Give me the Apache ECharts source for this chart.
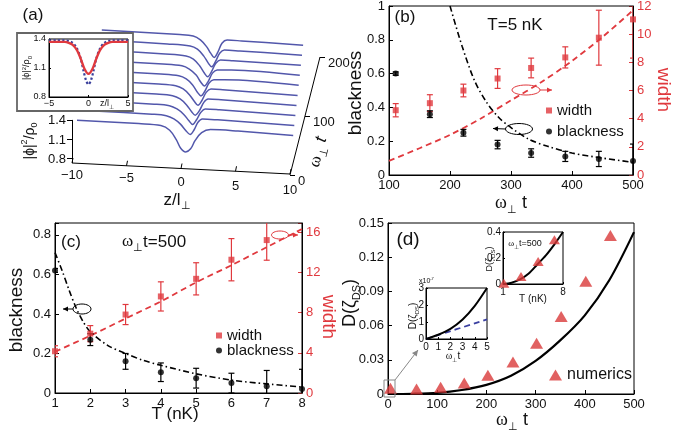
<!DOCTYPE html>
<html><head><meta charset="utf-8">
<script src="https://cdn.jsdelivr.net/npm/echarts@6.0.0/dist/echarts.min.js"></script>
<style>html,body{margin:0;padding:0;background:#fff}#c{width:690px;height:434px}</style>
</head><body><div id="c"></div>
<script>
// ================= DATA =================
// (a) waterfall: time of each profile and its (z, |phi|^2/rho0) points
const aTimes = [0, 17, 34, 51, 68, 85, 102, 119, 136, 153];
const aProfiles = [
  [[-9.6,1.40],[-4,1.40],[-2,1.39],[-1.2,1.33],[-0.6,1.20],[-0.2,1.08],[0.25,1.03],[0.7,1.08],[1.1,1.20],[1.7,1.32],[2.5,1.37],[5,1.37],[10,1.35]],
  [[-9.6,1.40],[-3,1.40],[-1.7,1.39],[-1.0,1.35],[-0.4,1.28],[0.1,1.19],[0.48,1.14],[0.85,1.21],[1.2,1.32],[1.6,1.37],[3,1.37],[10,1.35]],
  [[-9.6,1.40],[-3,1.40],[-1.6,1.39],[-0.9,1.35],[-0.3,1.28],[0.2,1.19],[0.54,1.14],[0.9,1.21],[1.3,1.32],[1.7,1.37],[3,1.37],[10,1.35]],
  [[-9.6,1.40],[-3,1.40],[-1.5,1.39],[-0.8,1.35],[-0.2,1.27],[0.25,1.18],[0.6,1.13],[1.0,1.20],[1.4,1.32],[1.8,1.37],[3,1.37],[10,1.35]],
  [[-9.6,1.40],[-3,1.40],[-1.4,1.39],[-0.7,1.35],[-0.1,1.27],[0.35,1.18],[0.68,1.13],[1.05,1.20],[1.45,1.32],[1.9,1.37],[3,1.37],[10,1.35]],
  [[-9.6,1.40],[-3,1.40],[-1.3,1.39],[-0.6,1.35],[0.0,1.27],[0.45,1.17],[0.79,1.12],[1.15,1.19],[1.55,1.31],[2.0,1.36],[3,1.37],[10,1.35]],
  [[-9.6,1.40],[-3,1.40],[-1.2,1.39],[-0.5,1.35],[0.15,1.27],[0.6,1.17],[0.93,1.12],[1.3,1.19],[1.7,1.31],[2.15,1.36],[3.5,1.37],[10,1.35]],
  [[-9.6,1.40],[-3,1.40],[-1.0,1.39],[-0.3,1.35],[0.3,1.26],[0.75,1.16],[1.07,1.11],[1.45,1.19],[1.85,1.31],[2.3,1.36],[3.5,1.36],[10,1.35]],
  [[-9.6,1.40],[-3,1.40],[-0.8,1.39],[-0.1,1.35],[0.5,1.26],[0.95,1.16],[1.27,1.11],[1.65,1.19],[2.05,1.31],[2.5,1.36],[4,1.36],[10,1.35]],
  [[-9.6,1.40],[-2,1.40],[-0.7,1.39],[0.0,1.34],[0.6,1.25],[1.0,1.16],[1.33,1.10],[1.7,1.18],[2.1,1.31],[2.6,1.36],[4,1.36],[10,1.35]]
];
const aZTicks = [-10, -5, 0, 5, 10];
const aVTicks = [0.8, 1.1, 1.4];
const aTTicks = [0, 100, 200];
// (a) inset
const aInsetNumZ = [-5,-4,-3,-2.5,-2,-1.5,-1,-0.6,-0.3,0,0.3,0.6,1,1.5,2,2.5,3,4,5];
const aInsetNum  = [1.385,1.385,1.385,1.38,1.36,1.31,1.2,1.06,0.97,0.93,0.97,1.06,1.2,1.31,1.36,1.38,1.385,1.385,1.385];
const aInsetRedZ = [-5,-3,-2.5,-2,-1.5,-1,-0.5,0,0.5,1,1.5,2,2.5,3,5];
const aInsetRed  = [1.37,1.37,1.36,1.34,1.29,1.2,1.09,1.04,1.09,1.2,1.29,1.34,1.36,1.37,1.37];
// (b) T = 5 nK
const bTime      = [111, 167, 222, 278, 333, 389, 444, 500];
const bBlack     = [0.60, 0.36, 0.25, 0.18, 0.13, 0.11, 0.095, 0.083];
const bBlackErr  = [0.01, 0.02, 0.02, 0.025, 0.025, 0.03, 0.045, 0.10];
const bWidth     = [4.6, 5.1, 6.0, 6.85, 7.6, 8.35, 9.75, 11.05];
const bWidthErr  = [0.47, 0.6, 0.45, 0.7, 0.7, 0.75, 1.95, 2.75];
const bWidthFitT = [100, 150, 200, 250, 300, 350, 400, 450, 500];
const bWidthFit  = [1.0, 1.9, 2.85, 4.0, 5.3, 6.6, 8.1, 9.8, 11.7];
const bBlackFitT = [200, 220, 240, 260, 280, 300, 330, 360, 400, 450, 500];
const bBlackFit  = [1.0, 0.76, 0.56, 0.43, 0.34, 0.28, 0.21, 0.17, 0.13, 0.10, 0.075];
// (c) omega t = 500
const cT         = [1, 2, 3, 4, 5, 6, 7, 8];
const cBlack     = [0.62, 0.27, 0.16, 0.105, 0.075, 0.05, 0.034, 0.02];
const cBlackErr  = [0.01, 0.03, 0.04, 0.047, 0.05, 0.05, 0.08, 0.10];
const cWidthT    = [1, 2, 3, 4, 5, 6, 7];
const cWidth     = [4.15, 5.9, 7.8, 9.6, 11.35, 13.25, 15.2];
const cWidthErr  = [0.55, 0.8, 1.0, 1.45, 1.6, 2.1, 2.0];
const cWidthFitT = [1, 2, 3, 4, 5, 6, 7, 8];
const cWidthFit  = [4.1, 5.7, 7.4, 9.1, 11.0, 12.7, 14.5, 16.3];
const cBlackFitT = [1, 1.2, 1.4, 1.6, 1.8, 2, 2.5, 3, 3.5, 4, 5, 6, 7, 8];
const cBlackFit  = [0.71, 0.62, 0.52, 0.43, 0.36, 0.31, 0.24, 0.20, 0.165, 0.14, 0.097, 0.065, 0.046, 0.03];
// (d)
const dT      = [5, 58, 107, 155, 203, 254, 302, 352, 402, 452];
const dNum    = [0.005, 0.0044, 0.006, 0.0097, 0.0164, 0.028, 0.0445, 0.068, 0.099, 0.139];
const dFitT   = [0, 50, 100, 150, 200, 250, 300, 350, 400, 450, 500];
const dFit    = [0, 0.0002, 0.001, 0.0035, 0.008, 0.016, 0.029, 0.047, 0.069, 0.100, 0.142];
// (d) inset 1 (units 1e-7)
const d1T     = [0, 1, 2, 3, 4, 5];
const d1Fit   = [0, 0.25, 0.6, 1.15, 1.95, 3.0];
const d1LinT  = [0, 5];
const d1Lin   = [0, 1.15];
// (d) inset 2
const d2T     = [1, 2, 3, 4, 5, 6, 7, 8];
const d2Fit   = [0, 0.01, 0.035, 0.08, 0.15, 0.22, 0.305, 0.40];
const d2NumT  = [1.1, 3.1, 5.1, 7.0];
const d2Num   = [0.005, 0.057, 0.173, 0.34];

// ================= LAYOUT / STYLE =================
const RED = '#e0393e', BLUE = '#5257ab', FONT = '"Liberation Sans", Arial, sans-serif';
const zip = (a, b) => a.map((v, i) => [v, b[i]]);

// projection of panel (a) 3D box to the page
function proj(z, t, v) {
  const s = 1 - 0.00045 * t;
  return [72.6 + 0.164 * t + (z + 10) * 11.03 * s, 162 - 0.59 * t + 0.6 * (z + 10) - (v - 0.8) * 70];
}
const zAx = z => [72 + (z + 10) * 10.9, 163 + (z + 10) * 0.55];
const vAx = v => [72, 158.3 - (v - 0.8) * 64];
const tAx = t => [290 + 0.15 * t, 175 - 0.59 * t];

function fmt(v) { return String(parseFloat(v.toFixed(3))); }
function stepFmt(step) {
  return v => (Math.abs(v / step - Math.round(v / step)) < 1e-6 ? fmt(v) : '');
}
function vAxis(o) {
  const base = {
    type: 'value', scale: false,
    axisLine: { show: true, onZero: false, lineStyle: { color: '#000', width: 1 } },
    axisTick: { show: true, inside: true, length: 4, lineStyle: { color: '#000' } },
    splitLine: { show: false },
    axisLabel: { color: '#111', fontSize: 13, fontFamily: FONT, margin: 4 }
  };
  const r = Object.assign(base, o);
  if (o.labelExtra) { r.axisLabel = Object.assign({}, base.axisLabel, o.labelExtra); delete r.labelExtra; }
  if (o.tickExtra) { r.axisTick = Object.assign({}, base.axisTick, o.tickExtra); delete r.tickExtra; }
  return r;
}
function gridBox(left, top, width, height, z) {
  return { left, top, width, height, show: true, borderColor: '#000', borderWidth: 1, backgroundColor: 'transparent', containLabel: false, outerBoundsMode: 'none', z: z || 2 };
}
function errSeries(xs, ys, es, xi, yi, color, cap) {
  return {
    type: 'custom', xAxisIndex: xi, yAxisIndex: yi, clip: true, z: 3, silent: true,
    data: xs.map((x, i) => [x, ys[i], es[i]]),
    encode: { x: 0, y: 1 },
    renderItem: (p, api) => {
      const x = api.value(0), y = api.value(1), e = api.value(2);
      const a = api.coord([x, y + e]), b = api.coord([x, y - e]);
      const st = { stroke: color, lineWidth: 1.2 };
      return { type: 'group', children: [
        { type: 'line', shape: { x1: a[0], y1: a[1], x2: b[0], y2: b[1] }, style: st },
        { type: 'line', shape: { x1: a[0] - cap, y1: a[1], x2: a[0] + cap, y2: a[1] }, style: st },
        { type: 'line', shape: { x1: b[0] - cap, y1: b[1], x2: b[0] + cap, y2: b[1] }, style: st }
      ] };
    }
  };
}
function lineS(xs, ys, xi, yi, color, width, type, extra) {
  return Object.assign({ type: 'line', xAxisIndex: xi, yAxisIndex: yi, data: zip(xs, ys), showSymbol: false, symbol: 'none',
    smooth: 0.3, lineStyle: { color, width, type }, silent: true, z: 2 }, extra || {});
}
function T(x, y, text, o) {
  o = o || {};
  const fs = o.fs || 13;
  const color = o.color || '#111';
  const lh = Math.round(fs * 1.35);
  return { type: 'text', x, y, rotation: o.rot || 0, z: 20, silent: true,
    style: { text, fontSize: fs, fontFamily: FONT, fill: color, align: o.align || 'center', verticalAlign: o.va || 'middle',
      rich: {
        n: { fontSize: fs, fontFamily: FONT, lineHeight: lh, fill: color },
        w: { fontSize: fs, fontFamily: '"Liberation Serif", serif', lineHeight: lh, fill: color },
        i: { fontSize: fs, fontFamily: FONT, fontStyle: 'italic', lineHeight: lh, fill: color },
        s: { fontSize: Math.round(fs * 0.62), fontFamily: FONT, verticalAlign: 'bottom', fill: color },
        u: { fontSize: Math.round(fs * 0.62), fontFamily: FONT, verticalAlign: 'top', fill: color }
      } } };
}
function arrow(x1, y1, x2, y2, color, head) {
  const ang = Math.atan2(y2 - y1, x2 - x1), h = head || 5;
  const p1 = [x2 - h * Math.cos(ang) + h * 0.5 * Math.sin(ang), y2 - h * Math.sin(ang) - h * 0.5 * Math.cos(ang)];
  const p2 = [x2 - h * Math.cos(ang) - h * 0.5 * Math.sin(ang), y2 - h * Math.sin(ang) + h * 0.5 * Math.cos(ang)];
  return [
    { type: 'line', z: 20, silent: true, shape: { x1, y1, x2, y2 }, style: { stroke: color, lineWidth: 1 } },
    { type: 'polygon', z: 20, silent: true, shape: { points: [[x2, y2], p1, p2] }, style: { fill: color } }
  ];
}
function ell(cx, cy, rx, ry, color) {
  return { type: 'ellipse', z: 20, silent: true, shape: { cx, cy, rx, ry }, style: { fill: 'none', stroke: color, lineWidth: 1 } };
}

// ================= SERIES =================
const series = [];
// (a) waterfall curves (grid 0, page coordinates via projection)
aProfiles.forEach((prof, k) => {
  series.push({ type: 'line', xAxisIndex: 0, yAxisIndex: 0, showSymbol: false, symbol: 'none', smooth: 0.35, silent: true, z: 1,
    data: prof.map(p => proj(p[0], aTimes[k], p[1])), lineStyle: { color: BLUE, width: 1.5 } });
});
// (a) 3D axes
const axSegs = [];
axSegs.push({ coords: [zAx(aZTicks[0]), zAx(aZTicks[aZTicks.length - 1])] });
aZTicks.forEach(z => { const p = zAx(z); axSegs.push({ coords: [p, [p[0] + 1, p[1] - 5]] }); });
axSegs.push({ coords: [[72, 163], vAx(aVTicks[aVTicks.length - 1])] });
aVTicks.forEach(v => { const p = vAx(v); axSegs.push({ coords: [p, [p[0] - 5, p[1]]] }); });
axSegs.push({ coords: [tAx(aTTicks[0]), tAx(aTTicks[aTTicks.length - 1])] });
aTTicks.forEach(t => { const p = tAx(t); axSegs.push({ coords: [p, [p[0] + 5, p[1]]] }); });
series.push({ type: 'lines', coordinateSystem: 'cartesian2d', xAxisIndex: 0, yAxisIndex: 0, silent: true, z: 1,
  data: axSegs, lineStyle: { color: '#000', width: 1, opacity: 1, curveness: 0 } });

// (a) inset
series.push(lineS(aInsetNumZ, aInsetNum, 1, 1, '#3a3f9c', 2.2, 'dotted', { z: 5, smooth: 0.3 }));
series.push(lineS(aInsetRedZ, aInsetRed, 1, 1, RED, 2.4, 'solid', { z: 6 }));

// (b)
series.push(lineS(bWidthFitT, bWidthFit, 2, 3, RED, 1.8, [6, 4]));
series.push(lineS(bBlackFitT, bBlackFit, 2, 2, '#000', 1.6, [6, 3, 1.5, 3]));
series.push(errSeries(bTime, bWidth, bWidthErr, 2, 3, RED, 3));
series.push(errSeries(bTime, bBlack, bBlackErr, 2, 2, '#000', 3));
series.push({ type: 'scatter', name: 'width', xAxisIndex: 2, yAxisIndex: 3, symbol: 'rect', symbolSize: 6, itemStyle: { color: RED }, data: zip(bTime, bWidth), z: 4 });
series.push({ type: 'scatter', name: 'blackness', xAxisIndex: 2, yAxisIndex: 2, symbol: 'circle', symbolSize: 6, itemStyle: { color: '#000' }, data: zip(bTime, bBlack), z: 4 });

// (c)
series.push(lineS(cWidthFitT, cWidthFit, 3, 5, RED, 1.8, [6, 4]));
series.push(lineS(cBlackFitT, cBlackFit, 3, 4, '#000', 1.6, [6, 3, 1.5, 3]));
series.push(errSeries(cWidthT, cWidth, cWidthErr, 3, 5, RED, 3));
series.push(errSeries(cT, cBlack, cBlackErr, 3, 4, '#000', 3));
series.push({ type: 'scatter', name: 'width', xAxisIndex: 3, yAxisIndex: 5, symbol: 'rect', symbolSize: 6, itemStyle: { color: RED }, data: zip(cWidthT, cWidth), z: 4 });
series.push({ type: 'scatter', name: 'blackness', xAxisIndex: 3, yAxisIndex: 4, symbol: 'circle', symbolSize: 6, itemStyle: { color: '#000' }, data: zip(cT, cBlack), z: 4 });

// (d)
series.push(lineS(dFitT, dFit, 4, 6, '#000', 2.2, 'solid'));
series.push({ type: 'scatter', name: 'numerics', xAxisIndex: 4, yAxisIndex: 6, symbol: 'triangle', symbolSize: [13, 11], itemStyle: { color: '#d93a3a' }, data: zip(dT, dNum), z: 4 });
// (d) inset 1
series.push(lineS(d1LinT, d1Lin, 5, 7, '#3a3fa0', 1.8, [6, 4], { z: 5 }));
series.push(lineS(d1T, d1Fit, 5, 7, '#000', 2, 'solid', { z: 6 }));
// (d) inset 2
series.push(lineS(d2T, d2Fit, 6, 8, '#000', 2, 'solid', { z: 5 }));
series.push({ type: 'scatter', xAxisIndex: 6, yAxisIndex: 8, symbol: 'triangle', symbolSize: [11, 9], itemStyle: { color: '#d93a3a' }, data: zip(d2NumT, d2Num), z: 6 });

// ================= GRAPHIC (labels, annotations) =================
const g = [];
// inset frame of (a), covers the waterfall behind it
g.push({ type: 'rect', z: 1.5, silent: true, shape: { x: 17, y: 33, width: 116, height: 78 }, style: { fill: '#fff', stroke: '#666', lineWidth: 1.8 } });
// (a) tick labels
aZTicks.forEach(z => { const p = zAx(z); g.push(T(p[0], 175 + (z + 10) * 0.75, String(z).replace('-', '\u2212'), { fs: 13 })); });
aVTicks.forEach(v => { const p = vAx(v); g.push(T(66, p[1] + 1, v.toFixed(1), { fs: 13, align: 'right' })); });
aTTicks.forEach(t => { const p = tAx(t); g.push(T(p[0] + 8, p[1] + 6, String(t), { fs: 13, align: 'left' })); });
g.push(T(33, 15, '(a)', { fs: 17 }));
g.push(T(30, 141, '{n||\u03d5|}{u|2}{n|/\u03c1}{s|0}', { fs: 14, rot: Math.PI / 2 }));
g.push(T(177, 200, '{n|z/l}{s|\u22a5}', { fs: 17 }));
g.push(T(318, 152, '{w|\u03c9}{s|\u22a5}{i| t}', { fs: 17, rot: 1.316 }));
g.push(T(27, 68, '{n||\u03d5|}{u|2}{n|/\u03c1}{s|0}', { fs: 9, rot: Math.PI / 2 }));
g.push(T(107, 104, '{n|z/l}{s|\u22a5}', { fs: 9 }));
// (b)
g.push(T(405, 17, '(b)', { fs: 17 }));
g.push(T(515, 25, 'T=5 nK', { fs: 17 }));
g.push(T(356, 93, 'blackness', { fs: 19, rot: Math.PI / 2 }));
g.push(T(663, 90, 'width', { fs: 19, rot: -Math.PI / 2, color: RED }));
g.push(T(511, 203, '{w|\u03c9}{s|\u22a5}{n| t}', { fs: 18 }));
g.push(ell(526, 90, 14, 5, RED)); g.push(...arrow(540, 90, 552, 90, RED));
g.push(ell(519, 129, 13.5, 5.5, '#000')); g.push(...arrow(505.5, 129, 493, 128.5, '#000'));
// (c)
g.push(T(71, 242, '(c)', { fs: 17 }));
g.push(T(154, 242, '{w|\u03c9}{s|\u22a5}{n|t=500}', { fs: 17 }));
g.push(T(17, 310, 'blackness', { fs: 19, rot: Math.PI / 2 }));
g.push(T(328, 317, 'width', { fs: 19, rot: -Math.PI / 2, color: RED }));
g.push(T(175, 414, 'T (nK)', { fs: 17 }));
g.push(ell(82, 309, 9, 5, '#000')); g.push(...arrow(73, 309, 63, 309, '#000'));
g.push(ell(280, 235, 8.5, 4, RED)); g.push(...arrow(288.5, 235, 298, 235, RED));
// (d)
g.push(T(408, 240, '(d)', { fs: 19 }));
g.push(T(350, 303, '{n|D(\u03b6}{s|DS}{n|)}', { fs: 18, rot: Math.PI / 2 }));
g.push(T(512, 420, '{w|\u03c9}{s|\u22a5}{n| t}', { fs: 18 }));
g.push({ type: 'rect', z: 20, silent: true, shape: { x: 384, y: 380, width: 11, height: 17 }, style: { fill: 'none', stroke: '#888', lineWidth: 1 } });
g.push(...arrow(395, 380, 418, 350, '#888', 6));
// (d) inset 1
g.push(T(413, 316, '{n|D(\u03b6}{s|DS}{n|)}', { fs: 10, rot: Math.PI / 2 }));
g.push(T(453, 356, '{w|\u03c9}{s|\u22a5}{n|t}', { fs: 10 }));
g.push(T(419, 281, '{n|x10}{u|-7}', { fs: 7, align: 'left' }));
// (d) inset 2
g.push(T(525, 244, '{w|\u03c9}{s|\u22a5}{n|t=500}', { fs: 9 }));
g.push(T(490, 259, '{n|D(\u03b6}{s|DS}{n|)}', { fs: 9, rot: Math.PI / 2 }));
g.push(T(533, 299, 'T (nK)', { fs: 10 }));

// ================= OPTION =================
const hidden = (max) => ({ type: 'value', gridIndex: 0, min: 0, max, show: false });
const legendBase = { orient: 'vertical', itemGap: 0, padding: 0, selectedMode: false };
const option = {
  animation: false,
  backgroundColor: '#fff',
  textStyle: { fontFamily: FONT },
  grid: [
    { left: 0, top: 0, width: 690, height: 434, show: false, containLabel: false, outerBoundsMode: 'none' },
    gridBox(49, 39, 79, 58, 3),
    gridBox(389, 6, 244, 169),
    gridBox(55, 223, 247, 170),
    gridBox(388, 223, 246, 171),
    gridBox(426, 288, 61, 51, 3),
    gridBox(503, 232, 60, 52, 3)
  ],
  xAxis: [
    hidden(690),
    vAxis({ gridIndex: 1, min: -5, max: 5, interval: 5, z: 5, labelExtra: { fontSize: 9, margin: 2, formatter: v => String(v).replace('-', '\u2212') }, tickExtra: { length: 2 } }),
    vAxis({ gridIndex: 2, min: 100, max: 500, interval: 100 }),
    vAxis({ gridIndex: 3, min: 1, max: 8, interval: 1 }),
    vAxis({ gridIndex: 4, min: 0, max: 500, interval: 100 }),
    vAxis({ gridIndex: 5, min: 0, max: 5, interval: 1, z: 5, labelExtra: { fontSize: 10, margin: 3 }, tickExtra: { length: 2 } }),
    vAxis({ gridIndex: 6, min: 1, max: 8, interval: 7, z: 5, labelExtra: { fontSize: 10, margin: 3 }, tickExtra: { length: 2 } })
  ],
  yAxis: [
    Object.assign(hidden(434), { inverse: true }),
    vAxis({ gridIndex: 1, min: 0.8, max: 1.4, interval: 0.3, z: 5, labelExtra: { fontSize: 9, margin: 3, formatter: v => v.toFixed(1) }, tickExtra: { length: 2 } }),
    vAxis({ gridIndex: 2, min: 0, max: 1, interval: 0.2, labelExtra: { formatter: fmt } }),
    vAxis({ gridIndex: 2, min: 0, max: 12, interval: 2, position: 'right', labelExtra: { color: RED }, tickExtra: { lineStyle: { color: RED } } }),
    vAxis({ gridIndex: 3, min: 0, max: 0.86, interval: 0.2, labelExtra: { formatter: stepFmt(0.2) } }),
    vAxis({ gridIndex: 3, min: 0, max: 16.9, interval: 4, position: 'right', labelExtra: { color: RED, formatter: stepFmt(4) }, tickExtra: { lineStyle: { color: RED } } }),
    vAxis({ gridIndex: 4, min: 0, max: 0.15, interval: 0.03, labelExtra: { formatter: fmt } }),
    vAxis({ gridIndex: 5, min: 0, max: 3, interval: 1, z: 5, labelExtra: { fontSize: 10, margin: 2 }, tickExtra: { length: 2 } }),
    vAxis({ gridIndex: 6, min: 0, max: 0.4, interval: 0.2, z: 5, labelExtra: { fontSize: 10, margin: 2, formatter: fmt }, tickExtra: { length: 2 } })
  ],
  legend: [
    Object.assign({ data: ['width', 'blackness'], left: 546, top: 100, itemWidth: 6, itemHeight: 6,
      textStyle: { fontSize: 15, fontFamily: FONT, color: '#111', lineHeight: 21 } }, legendBase),
    Object.assign({ data: ['width', 'blackness'], left: 216, top: 328, itemWidth: 6, itemHeight: 6,
      textStyle: { fontSize: 15, fontFamily: FONT, color: '#111', lineHeight: 14.5 } }, legendBase),
    Object.assign({ data: ['numerics'], left: 549, top: 365, itemWidth: 13, itemHeight: 11,
      textStyle: { fontSize: 16, fontFamily: FONT, color: '#111', lineHeight: 20 } }, legendBase)
  ],
  series,
  graphic: { elements: g }
};
const chart = echarts.init(document.getElementById('c'));
chart.setOption(option);
</script>
</body></html>
